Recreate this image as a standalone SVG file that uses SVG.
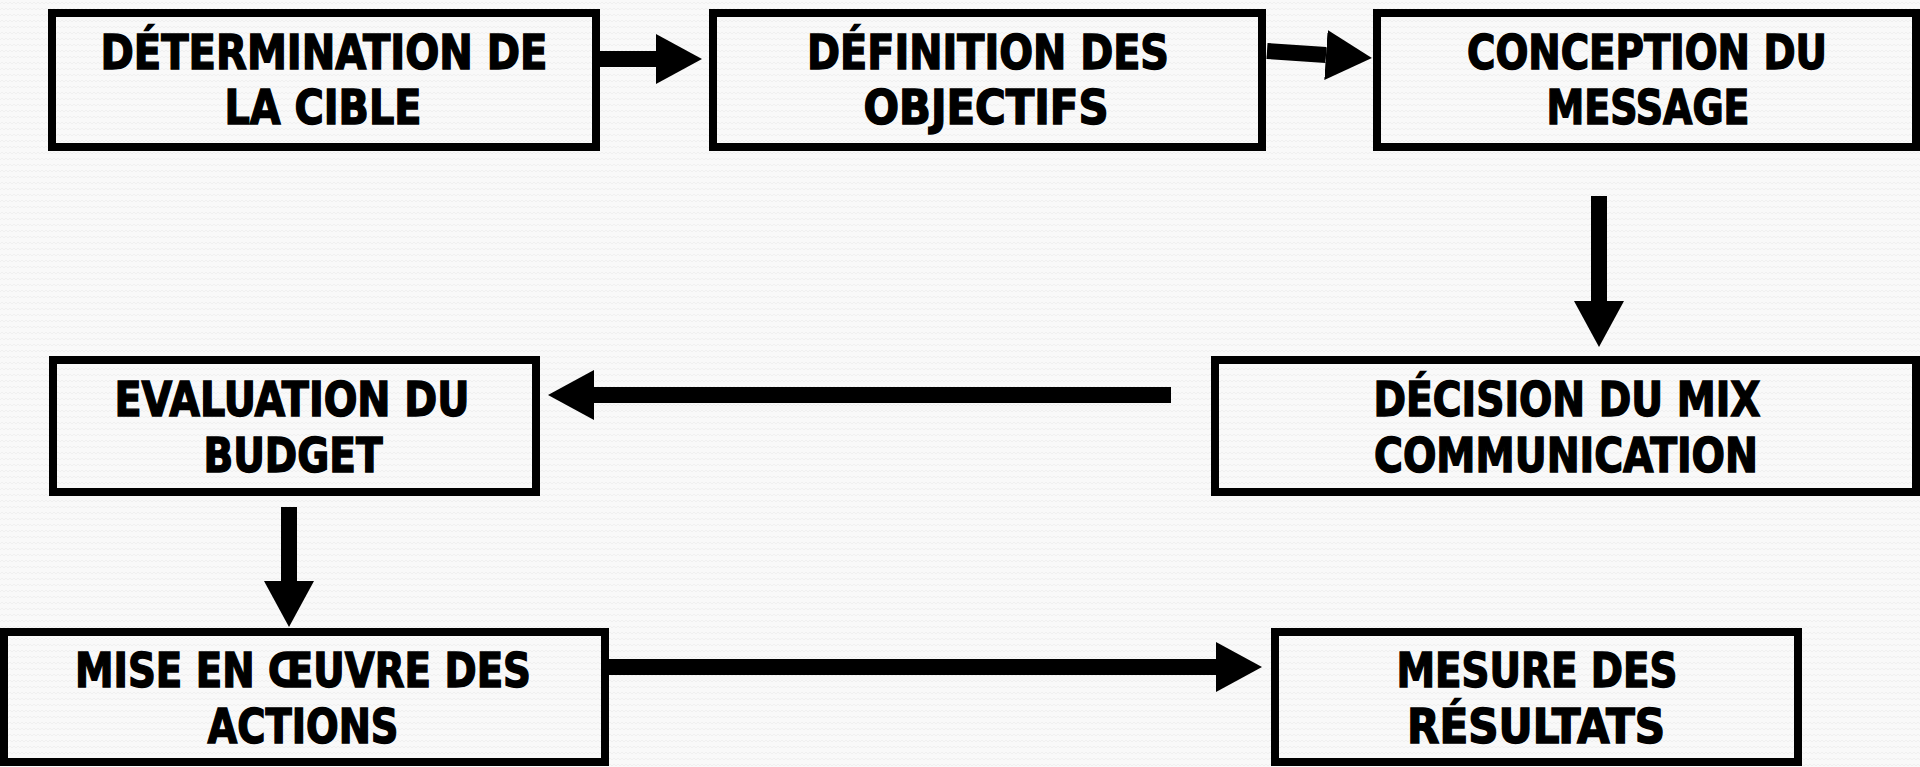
<svg xmlns="http://www.w3.org/2000/svg" width="1920" height="767" viewBox="0 0 1920 767">
<style>
.box{fill:none;stroke:#000;stroke-width:8}
.lbl{font-family:"Liberation Sans Narrow","DejaVu Sans Condensed","Liberation Sans",sans-serif;font-weight:bold;font-size:48px;fill:#000;stroke:#000;stroke-width:1.4;text-anchor:middle}
.arr{stroke:#000;stroke-width:16;fill:none;marker-end:url(#head)}
</style>
<defs>
<pattern id="bg" width="8" height="6" patternUnits="userSpaceOnUse">
<rect width="8" height="6" fill="#f9f9f9"/>
<polyline points="0,4 2,2 4,4 6,2 8,4" fill="none" stroke="#f0f0f0" stroke-width="1"/>
</pattern>
<marker id="head" markerUnits="userSpaceOnUse" viewBox="0 0 46 50" refX="0" refY="25" markerWidth="46" markerHeight="50" orient="auto">
<path d="M0,0 L46,25 L0,50 z" fill="#000"/>
</marker>
</defs>
<rect width="1920" height="767" fill="url(#bg)"/>
<g id="connectors">
<line class="arr" x1="593" y1="59" x2="656" y2="59"/>
<line class="arr" x1="1267" y1="51" x2="1326" y2="55"/>
<line class="arr" x1="1599" y1="196" x2="1599" y2="301"/>
<line class="arr" x1="1171" y1="395" x2="594" y2="395"/>
<line class="arr" x1="289" y1="507" x2="289" y2="581"/>
<line class="arr" x1="609" y1="667" x2="1216" y2="667"/>
</g>
<g id="n1">
<rect class="box" x="52" y="13" width="544" height="134"/>
<text class="lbl" x="324" y="69" textLength="447" lengthAdjust="spacingAndGlyphs">DÉTERMINATION DE</text>
<text class="lbl" x="323" y="124" textLength="197" lengthAdjust="spacingAndGlyphs">LA CIBLE</text>
</g>
<g id="n2">
<rect class="box" x="713" y="13" width="549" height="134"/>
<text class="lbl" x="988" y="69" textLength="362" lengthAdjust="spacingAndGlyphs">DÉFINITION DES</text>
<text class="lbl" x="986" y="124" textLength="245" lengthAdjust="spacingAndGlyphs">OBJECTIFS</text>
</g>
<g id="n3">
<rect class="box" x="1377" y="13" width="539" height="134"/>
<text class="lbl" x="1647" y="69" textLength="360" lengthAdjust="spacingAndGlyphs">CONCEPTION DU</text>
<text class="lbl" x="1648" y="124" textLength="203" lengthAdjust="spacingAndGlyphs">MESSAGE</text>
</g>
<g id="n4">
<rect class="box" x="1215" y="360" width="701" height="132"/>
<text class="lbl" x="1567" y="416" textLength="387" lengthAdjust="spacingAndGlyphs">DÉCISION DU MIX</text>
<text class="lbl" x="1566" y="472" textLength="384" lengthAdjust="spacingAndGlyphs">COMMUNICATION</text>
</g>
<g id="n5">
<rect class="box" x="53" y="360" width="483" height="132"/>
<text class="lbl" x="292" y="416" textLength="355" lengthAdjust="spacingAndGlyphs">EVALUATION DU</text>
<text class="lbl" x="293" y="472" textLength="179" lengthAdjust="spacingAndGlyphs">BUDGET</text>
</g>
<g id="n6">
<rect class="box" x="4" y="632" width="601" height="130"/>
<text class="lbl" x="303" y="687" textLength="456" lengthAdjust="spacingAndGlyphs">MISE EN ŒUVRE DES</text>
<text class="lbl" x="303" y="743" textLength="191" lengthAdjust="spacingAndGlyphs">ACTIONS</text>
</g>
<g id="n7">
<rect class="box" x="1275" y="632" width="523" height="130"/>
<text class="lbl" x="1537" y="687" textLength="281" lengthAdjust="spacingAndGlyphs">MESURE DES</text>
<text class="lbl" x="1536" y="743" textLength="258" lengthAdjust="spacingAndGlyphs">RÉSULTATS</text>
</g>
</svg>
